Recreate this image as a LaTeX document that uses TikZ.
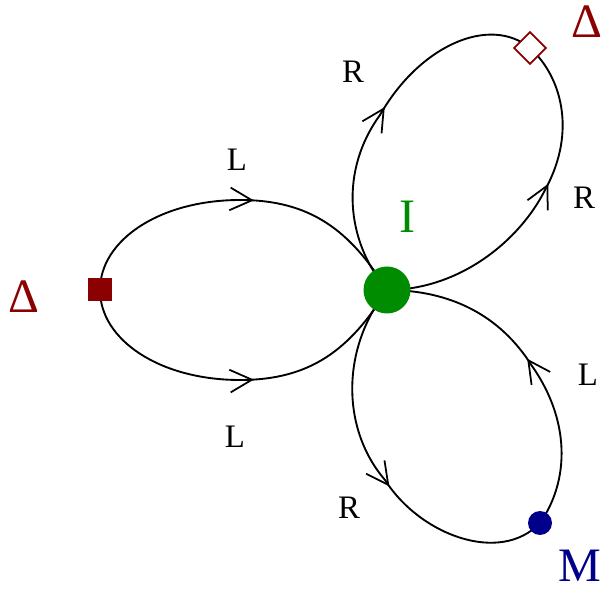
\documentclass[tikz,border=0pt]{standalone}
\usepackage{fontspec}
\setmainfont{Liberation Serif}
\usetikzlibrary{arrows.meta,decorations.markings,shapes.geometric,backgrounds}
\definecolor{dred}{RGB}{139,0,0}
\definecolor{dgreen}{RGB}{0,140,0}
\definecolor{dblue}{RGB}{0,0,139}
\begin{document}
\begin{tikzpicture}[x=0.03cm,y=-0.03cm,
  edgeline/.style={line width=1.6pt},
  midarrow/.style={postaction={decorate},decoration={markings,
     mark=at position #1 with {\arrow{Straight Barb[length=0.66cm,width=0.68cm,line width=1.5pt]}}}},
  small/.style={inner sep=0pt,font=\fontsize{28}{28}\selectfont},
  big/.style={inner sep=0pt,font=\fontsize{41}{41}\selectfont}]
\useasboundingbox (0,0) rectangle (603,592);
% states
\node[circle,fill=dgreen,inner sep=0pt,minimum size=1.41cm] (I) at (387,290) {};
\node[rectangle,fill=dred,inner sep=0pt,minimum size=0.69cm] (sq) at (100,290) {};
\node[diamond,draw=dred,fill=white,line width=1.5pt,inner sep=0pt,minimum size=0.98cm] (dm) at (530,48) {};
\node[circle,fill=dblue,inner sep=0pt,minimum size=0.72cm] (M) at (540,523) {};
% edges
\begin{pgfonlayer}{background}
\draw[edgeline,midarrow=0.54] (sq.center) .. controls (100,240) and (160,200) .. (240,200)
   .. controls (310,200) and (350,230) .. (I.center);
\draw[edgeline,midarrow=0.54] (sq.center) .. controls (100,340) and (160,380) .. (240,380)
   .. controls (310,380) and (350,350) .. (I.center);
\draw[edgeline,midarrow=0.53] (I.center) .. controls (345,240) and (340,170) .. (380,115)
   .. controls (420,45) and (490,15) .. (dm.center);
\draw[edgeline,midarrow=0.58] (I.center) .. controls (460,290) and (520,240) .. (545,190)
   .. controls (578,130) and (560,75) .. (dm.center);
\draw[edgeline,midarrow=0.55] (I.center) .. controls (340,350) and (342,430) .. (385,480)
   .. controls (420,535) and (500,565) .. (M.center);
\draw[edgeline,midarrow=0.52] (M.center) .. controls (570,480) and (570,420) .. (532,366)
   .. controls (500,315) and (450,290) .. (I.center);
\end{pgfonlayer}
% labels
\node[small] (l1) at (237,160) {L};
\node[small] (l2) at (235,437) {L};
\node[small] (r1) at (353,72) {R};
\node[small] (r2) at (584,198) {R};
\node[small] (l3) at (588,375) {L};
\node[small] (r3) at (349,508) {R};
\node[big,text=dgreen] (tI) at (407,217) {I};
\node[big,text=dred] (d1) at (24,297) {Δ};
\node[big,text=dred] (d2) at (587,22) {Δ};
\node[big,text=dblue] (tM) at (580,566) {M};
\end{tikzpicture}
\end{document}
